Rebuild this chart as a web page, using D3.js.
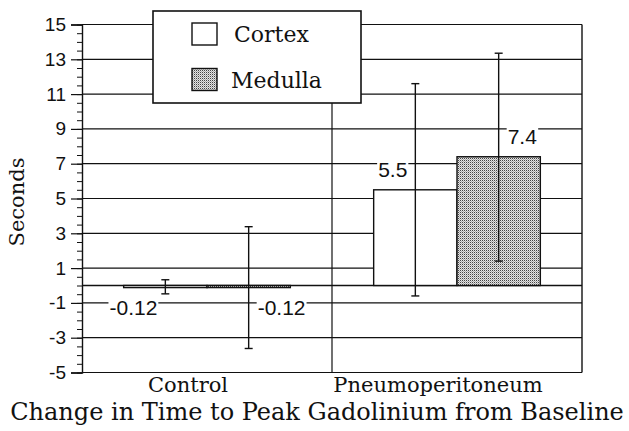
<!DOCTYPE html>
<html><head><meta charset="utf-8">
<script src="https://cdn.jsdelivr.net/npm/d3@7"></script>
<style>body{margin:0;background:#fff}svg{display:block}</style>
</head><body><svg id="c" width="629" height="431"></svg>
<script>
const categories = ["Control", "Pneumoperitoneum"];
const series = ["Cortex", "Medulla"];
const cortexValues = [-0.12, 5.5];
const medullaValues = [-0.12, 7.4];
const cortexErrLow = [-0.48, -0.6];
const cortexErrHigh = [0.33, 11.6];
const medullaErrLow = [-3.62, 1.4];
const medullaErrHigh = [3.38, 13.35];
const valueLabels = [["-0.12", "5.5"], ["-0.12", "7.4"]];
const majorTicks = [-5, -3, -1, 1, 3, 5, 7, 9, 11, 13, 15];
const minorTicks = d3.range(-5, 15.01, 0.5);
const xTitle = "Change in Time to Peak Gadolinium from Baseline";
const yTitle = "Seconds";

const svg = d3.select("#c");
const L = 82, R = 582, T = 24.5, B = 372.5;
const y = d3.scaleLinear().domain([-5, 15]).range([B, T]);
const x0 = d3.scaleBand().domain(categories).range([L, R]);
const x1 = d3.scaleBand().domain(series).range([0, x0.bandwidth()]).paddingInner(0).paddingOuter(0.5);

const defs = svg.append("defs");
const pat = defs.append("pattern").attr("id", "dots").attr("width", 2).attr("height", 2).attr("patternUnits", "userSpaceOnUse");
pat.append("rect").attr("width", 2).attr("height", 2).attr("fill", "#e4e4e4");
pat.append("rect").attr("width", 1).attr("height", 1).attr("fill", "#444");
pat.append("rect").attr("x", 1).attr("y", 1).attr("width", 1).attr("height", 1).attr("fill", "#aaa");

const ink = "#111";
// gridlines
svg.append("g").selectAll("line").data(majorTicks.concat([0])).join("line")
  .attr("x1", L).attr("x2", R).attr("y1", d => y(d)).attr("y2", d => y(d))
  .attr("stroke", ink).attr("stroke-width", d => d === 0 ? 1.6 : 1.2);
// right border and divider
svg.append("line").attr("x1", R).attr("x2", R).attr("y1", T).attr("y2", B).attr("stroke", ink).attr("stroke-width", 1.4);
svg.append("line").attr("x1", x0("Pneumoperitoneum")).attr("x2", x0("Pneumoperitoneum")).attr("y1", T).attr("y2", B).attr("stroke", ink).attr("stroke-width", 1.2);

// axes
const minorAx = svg.append("g").attr("transform", `translate(${L},0)`)
  .call(d3.axisLeft(y).tickValues(minorTicks).tickSize(5).tickFormat(""));
minorAx.select(".domain").remove();
minorAx.selectAll("line").attr("stroke", ink).attr("stroke-width", 1);
const ax = svg.append("g").attr("transform", `translate(${L},0)`)
  .call(d3.axisLeft(y).tickValues(majorTicks).tickSize(11).tickPadding(5).tickFormat(d => String(d)));
ax.select(".domain").attr("stroke", ink).attr("stroke-width", 1.4);
ax.selectAll("line").attr("stroke", ink).attr("stroke-width", 1.2);
ax.selectAll("text").attr("font-family", "Liberation Sans, Arial, sans-serif").attr("font-size", 19).attr("fill", ink);

// bars
const data = [];
categories.forEach((c, i) => {
  data.push({c, s: "Cortex", v: cortexValues[i], lo: cortexErrLow[i], hi: cortexErrHigh[i], lab: valueLabels[0][i]});
  data.push({c, s: "Medulla", v: medullaValues[i], lo: medullaErrLow[i], hi: medullaErrHigh[i], lab: valueLabels[1][i]});
});
const bx = d => x0(d.c) + x1(d.s);
svg.append("g").selectAll("rect").data(data).join("rect")
  .attr("x", bx).attr("width", x1.bandwidth())
  .attr("y", d => y(Math.max(0, d.v))).attr("height", d => Math.abs(y(d.v) - y(0)))
  .attr("fill", d => d.s === "Cortex" ? "#fff" : "url(#dots)")
  .attr("stroke", ink).attr("stroke-width", 1.4);

// error bars
const eb = svg.append("g").attr("stroke", ink).attr("stroke-width", 1.4);
data.forEach(d => {
  const cx = bx(d) + x1.bandwidth() / 2;
  eb.append("line").attr("x1", cx).attr("x2", cx).attr("y1", y(d.hi)).attr("y2", y(d.lo));
  [d.hi, d.lo].forEach(v => eb.append("line").attr("x1", cx - 4).attr("x2", cx + 4).attr("y1", y(v)).attr("y2", y(v)));
});

// value labels
const lg = svg.append("g");
data.forEach(d => {
  const cx = bx(d) + x1.bandwidth() / 2;
  const isC = d.s === "Cortex";
  const tx = isC ? cx - 8 : cx + 9;
  const ty = d.v >= 0 ? y(d.v) - 13 : y(d.v) + 27;
  const g = lg.append("g");
  const r = g.append("rect").attr("fill", "#fff");
  const t = g.append("text").attr("x", tx).attr("y", ty).attr("text-anchor", isC ? "end" : "start")
    .attr("font-family", "Liberation Sans, Arial, sans-serif").attr("font-size", 21).attr("fill", ink).text(d.lab);
  const bb = t.node().getBBox();
  r.attr("x", bb.x - 1).attr("y", bb.y + 2).attr("width", bb.width + 2).attr("height", bb.height - 4);
});

// legend
const leg = svg.append("g");
leg.append("rect").attr("x", 153).attr("y", 11).attr("width", 208).attr("height", 92)
  .attr("fill", "#fff").attr("stroke", ink).attr("stroke-width", 1.6);
series.forEach((s, i) => {
  const yy = 23 + i * 45.5;
  leg.append("rect").attr("x", 192).attr("y", yy).attr("width", 25).attr("height", 22)
    .attr("fill", s === "Cortex" ? "#fff" : "url(#dots)").attr("stroke", ink).attr("stroke-width", 1.4);
  leg.append("text").attr("x", i === 0 ? 234 : 231).attr("y", yy + 19)
    .attr("font-family", "DejaVu Serif, serif").attr("font-size", 22).attr("fill", ink).text(s);
});

// category labels
svg.append("g").selectAll("text").data(categories).join("text")
  .attr("x", d => x0(d) + x0.bandwidth() / 2 - 19).attr("y", 392).attr("text-anchor", "middle")
  .attr("font-family", "DejaVu Serif, serif").attr("font-size", 21).attr("fill", ink).text(d => d);

svg.append("text").attr("x", 317).attr("y", 420).attr("text-anchor", "middle")
  .attr("font-family", "DejaVu Serif, serif").attr("font-size", 24).attr("fill", ink).text(xTitle);
svg.append("text").attr("transform", "translate(24,202) rotate(-90)").attr("text-anchor", "middle")
  .attr("font-family", "DejaVu Serif, serif").attr("font-size", 21).attr("fill", ink).text(yTitle);
</script></body></html>
